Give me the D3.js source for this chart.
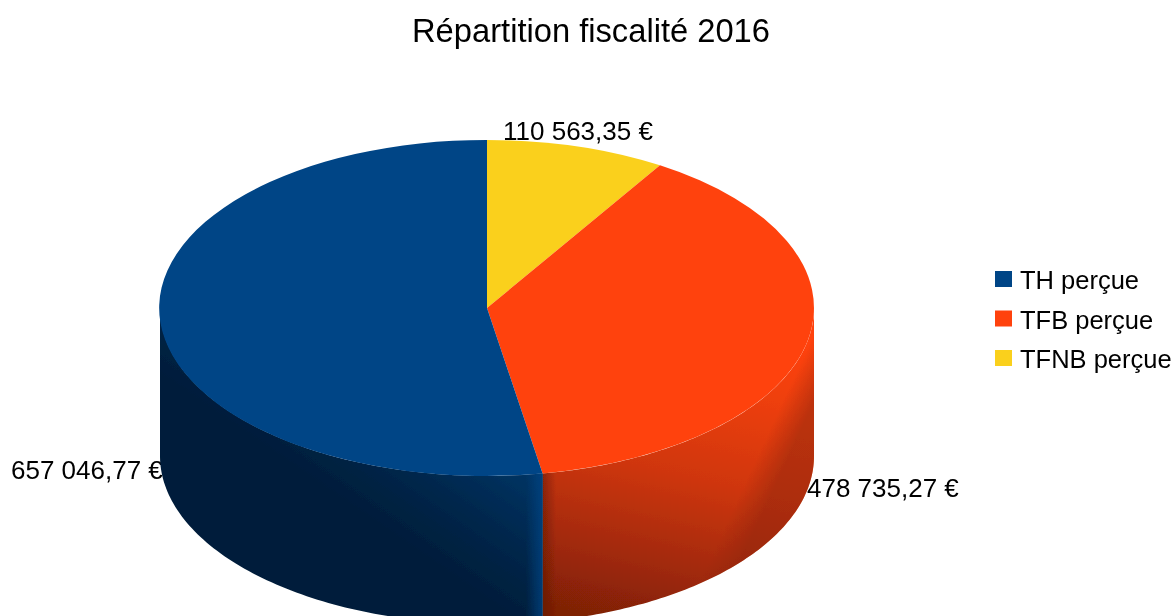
<!DOCTYPE html>
<html><head><meta charset="utf-8">
<style>html,body{margin:0;padding:0;background:#fff;overflow:hidden}svg{display:block}text{font-family:"Liberation Sans",Arial,sans-serif;fill:#000}</style>
<script src="https://cdn.jsdelivr.net/npm/d3@7/dist/d3.min.js"></script>
</head><body><script>
const chartTitle = "Répartition fiscalité 2016";
const categories = ["TH perçue", "TFB perçue", "TFNB perçue"];
const values = [657046.77, 478735.27, 110563.35];
const valueLabels = ["657 046,77 €", "478 735,27 €", "110 563,35 €"];
const colors = ["#004586", "#ff420e", "#fad01f"];

const W = 1175, H = 616;
const cx = 487, cy = 308, rx = 327, ry = 168, depth = 148;
const svg = d3.select("body").append("svg").attr("width", W).attr("height", H);
const defs = svg.append("defs");
defs.append("filter").attr("id", "soft").attr("x", 0).attr("y", 0).attr("width", 1).attr("height", 1)
  .append("feGaussianBlur").attr("stdDeviation", 0.5);
function lg(id, x1, y1, x2, y2, stops) {
  const g = defs.append("linearGradient").attr("id", id).attr("gradientUnits", "userSpaceOnUse")
    .attr("x1", x1).attr("y1", y1).attr("x2", x2).attr("y2", y2);
  stops.forEach(s => g.append("stop").attr("offset", s[0]).attr("stop-color", s[1]).attr("stop-opacity", s[2] === undefined ? 1 : s[2]));
}
lg("blueBase", 400, 480, 520, 620, [[0, "#001d3a"], [1, "#001d3a"]]);
lg("blueGlow", 550, 465, 450, 610, [[0, "#00437f", .7], [.3, "#00437f", .42], [.6, "#00437f", .16], [.85, "#00437f", 0]]);
lg("blueEdge", 526, 0, 543, 0, [[0, "#004586", 0], [1, "#004586", .75]]);
lg("orangeBase", 770, 335, 700, 640, [[0, "#ff420e"], [.2, "#ee3f0d"], [.5, "#cf360a"], [.8, "#a02908"], [1, "#7f2006"]]);
lg("orangeLeft", 543, 0, 556, 0, [[0, "#5a1704", .5], [1, "#5a1704", 0]]);
lg("orangeRight", 788, 390, 814, 402, [[0, "#8a2407", 0], [1, "#8a2407", .5]]);

const px = d3.scaleLinear().domain([-1, 1]).range([cx - rx, cx + rx]);
const py = d3.scaleLinear().domain([-1, 1]).range([cy - ry, cy + ry]);

const order = [2, 1, 0];
const pie = d3.pie().sort(null).value(i => values[i]);
const slices = pie(order);

const root = svg.append("g").attr("filter", "url(#soft)");
root.append("rect").attr("width", W).attr("height", H).attr("fill", "#fff");

const labelPos = {0: [11, 479], 1: [807, 497], 2: [503, 140]};
root.append("g").selectAll("text").data(valueLabels).join("text")
  .attr("x", (d, i) => labelPos[i][0]).attr("y", (d, i) => labelPos[i][1])
  .attr("font-size", 26).text(d => d);

function wall(a0, a1) {
  const n = 90;
  const angles = d3.range(n + 1).map(k => a0 + (a1 - a0) * k / n);
  const top = angles.map(a => [px(Math.sin(a)), py(-Math.cos(a))]);
  const bottom = angles.slice().reverse().map(a => [px(Math.sin(a)), py(-Math.cos(a)) + depth]);
  return d3.line()(top.concat(bottom)) + "Z";
}
const orangeSlice = slices.find(s => s.data === 1), blueSlice = slices.find(s => s.data === 0);
const oW = wall(Math.PI / 2, orangeSlice.endAngle);
const bW = wall(blueSlice.startAngle, Math.PI * 1.5);
const walls = root.append("g");
["orangeBase", "orangeLeft", "orangeRight"].forEach(f => walls.append("path").attr("d", oW).attr("fill", `url(#${f})`));
["blueBase", "blueGlow", "blueEdge"].forEach(f => walls.append("path").attr("d", bW).attr("fill", `url(#${f})`));

const arc = d3.arc().innerRadius(0).outerRadius(1);
root.append("g").selectAll("path").data(slices).join("path")
  .attr("transform", `translate(${cx},${cy}) scale(${rx},${ry})`)
  .attr("d", arc).attr("fill", d => colors[d.data]);

root.append("text").attr("x", 591).attr("y", 42).attr("text-anchor", "middle").attr("font-size", 32.7).text(chartTitle);

const legendY = d3.scalePoint().domain(categories).range([279, 358]);
const leg = root.append("g").selectAll("g").data(categories).join("g");
leg.append("rect").attr("x", 995).attr("y", d => legendY(d) - 8).attr("width", 17).attr("height", 16)
  .attr("fill", (d, i) => colors[i]);
leg.append("text").attr("x", 1020).attr("y", d => legendY(d) + 10).attr("font-size", 25.5).text(d => d);
</script></body></html>
